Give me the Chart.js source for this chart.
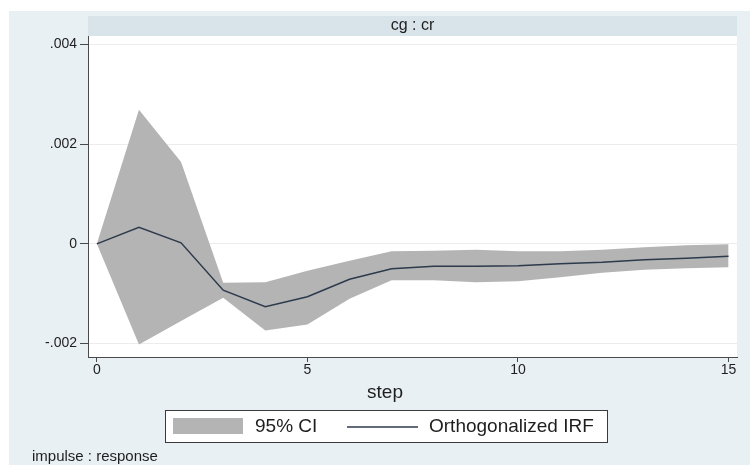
<!DOCTYPE html>
<html>
<head>
<meta charset="utf-8">
<script src="https://cdn.jsdelivr.net/npm/chart.js@4/dist/chart.umd.min.js"></script>
<style>
    html, body { margin: 0; padding: 0; background: #ffffff; }
    canvas { display: block; }
</style>
</head>
<body>
<canvas id="irf-chart" width="750" height="465"></canvas>
<script>
// steps of the impulse response
const steps = [0, 1, 2, 3, 4, 5, 6, 7, 8, 9, 10, 11, 12, 13, 14, 15];

// orthogonalized IRF (cg : cr)
const irf = [0, 0.00033, 0.00002, -0.00093, -0.00126, -0.00106, -0.00071, -0.00050,
    -0.00045, -0.00045, -0.00044, -0.00040, -0.00037, -0.00032, -0.00029, -0.00025];

// 95% confidence band
const ciUpper = [0, 0.00269, 0.00164, -0.00078, -0.00077, -0.00054, -0.00034, -0.00015,
    -0.00014, -0.00012, -0.00015, -0.00015, -0.00012, -0.00007, -0.00003, -0.00001];
const ciLower = [0, -0.00202, -0.00155, -0.00108, -0.00174, -0.00162, -0.00110, -0.00073,
    -0.00073, -0.00077, -0.00075, -0.00067, -0.00058, -0.00052, -0.00049, -0.00047];

// tick labels
const xTicks = [0, 5, 10, 15];
const yTicks = [-0.002, 0, 0.002, 0.004];

const panelTitle = 'cg : cr';
const xTitle = 'step';
const noteText = 'impulse : response';
const legendLabels = ['95% CI', 'Orthogonalized IRF'];

const FONT = "'Liberation Sans', Arial, Helvetica, sans-serif";
const BAND_COLOR = '#b4b4b4';
const LINE_COLOR = '#2c3a4c';
const AXIS_COLOR = '#4a4a4a';
const TEXT_COLOR = '#1e1e1e';

// Stata-like frame: outer region, title strip, legend box, note
const stataFrame = {
    id: 'stataFrame',
    beforeDraw(chart) {
        const { ctx, chartArea: a } = chart;
        ctx.save();
        ctx.fillStyle = '#ffffff';
        ctx.fillRect(0, 0, chart.width, chart.height);
        ctx.fillStyle = '#e9f0f3';
        ctx.fillRect(9, 11, chart.width - 9, chart.height - 11);
        // strip with the panel title
        ctx.fillStyle = '#d9e4ea';
        ctx.fillRect(a.left, 16, a.right - a.left, a.top - 16);
        // plot region
        ctx.fillStyle = '#ffffff';
        ctx.fillRect(a.left, a.top, a.right - a.left, a.bottom - a.top);
        ctx.restore();
    },
    afterDraw(chart) {
        const { ctx, chartArea: a } = chart;
        ctx.save();
        ctx.fillStyle = TEXT_COLOR;
        ctx.textBaseline = 'middle';

        ctx.font = '16px ' + FONT;
        ctx.textAlign = 'center';
        ctx.fillText(panelTitle, (a.left + a.right) / 2, 26);

        ctx.font = '19px ' + FONT;
        ctx.fillText(xTitle, 385, 393);

        // legend
        ctx.fillStyle = '#ffffff';
        ctx.fillRect(165, 410, 442, 32);
        ctx.strokeStyle = '#3a3a3a';
        ctx.lineWidth = 1;
        ctx.strokeRect(165.5, 410.5, 442, 32);
        ctx.fillStyle = BAND_COLOR;
        ctx.fillRect(173, 418, 70, 16);
        ctx.strokeStyle = LINE_COLOR;
        ctx.lineWidth = 1.5;
        ctx.beginPath();
        ctx.moveTo(347, 427);
        ctx.lineTo(418, 427);
        ctx.stroke();
        ctx.fillStyle = TEXT_COLOR;
        ctx.textAlign = 'left';
        ctx.font = '19px ' + FONT;
        ctx.fillText(legendLabels[0], 255, 427);
        ctx.fillText(legendLabels[1], 429, 427);

        ctx.font = '15px ' + FONT;
        ctx.fillText(noteText, 32, 457);
        ctx.restore();
    }
};

function formatTick(v) {
    if (v === 0) return '0';
    const s = Math.abs(v).toFixed(3).replace(/^0/, '');
    return (v < 0 ? '-' : '') + s;
}

const ctx = document.getElementById('irf-chart').getContext('2d');

new Chart(ctx, {
    type: 'line',
    data: {
        datasets: [
            {
                label: 'lower',
                data: steps.map((s, i) => ({ x: s, y: ciLower[i] })),
                borderColor: 'rgba(0,0,0,0)',
                borderWidth: 1,
                pointRadius: 0,
                fill: false,
                tension: 0,
                order: 2
            },
            {
                label: legendLabels[0],
                data: steps.map((s, i) => ({ x: s, y: ciUpper[i] })),
                borderColor: 'rgba(0,0,0,0)',
                backgroundColor: BAND_COLOR,
                borderWidth: 1,
                pointRadius: 0,
                fill: '-1',
                tension: 0,
                order: 1
            },
            {
                label: legendLabels[1],
                data: steps.map((s, i) => ({ x: s, y: irf[i] })),
                borderColor: LINE_COLOR,
                borderWidth: 1.5,
                pointRadius: 0,
                fill: false,
                tension: 0,
                order: 0
            }
        ]
    },
    options: {
        responsive: false,
        animation: false,
        layout: {
            padding: { left: 0, top: 36, right: 13, bottom: 58 }
        },
        plugins: {
            legend: { display: false },
            tooltip: { enabled: false }
        },
        scales: {
            x: {
                type: 'linear',
                min: -0.21,
                max: 15.2,
                afterBuildTicks: scale => { scale.ticks = xTicks.map(v => ({ value: v })); },
                afterFit: scale => { scale.height = 50; },
                border: { color: AXIS_COLOR, width: 1 },
                grid: {
                    drawOnChartArea: false,
                    tickLength: 5,
                    tickColor: AXIS_COLOR
                },
                ticks: {
                    padding: 0,
                    color: TEXT_COLOR,
                    font: { size: 14, family: FONT },
                    maxRotation: 0
                }
            },
            y: {
                min: -0.00227,
                max: 0.00417,
                afterBuildTicks: scale => { scale.ticks = yTicks.map(v => ({ value: v })); },
                afterFit: scale => { scale.width = 88; },
                border: { color: AXIS_COLOR, width: 1 },
                grid: {
                    color: '#ececec',
                    tickLength: 8,
                    tickColor: AXIS_COLOR
                },
                ticks: {
                    padding: 3,
                    color: TEXT_COLOR,
                    font: { size: 14, family: FONT },
                    callback: v => formatTick(v)
                }
            }
        }
    },
    plugins: [stataFrame]
});
</script>
</body>
</html>
